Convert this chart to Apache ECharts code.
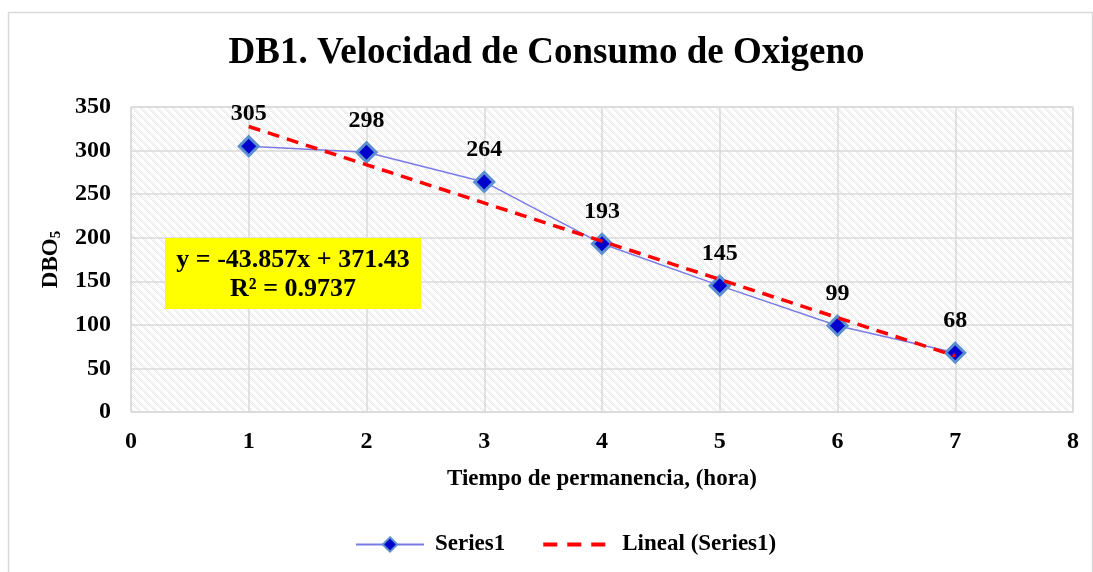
<!DOCTYPE html>
<html>
<head>
<meta charset="utf-8">
<script src="https://cdn.jsdelivr.net/npm/echarts@6/dist/echarts.min.js"></script>
<style>
  html, body { margin: 0; padding: 0; background: #fff; }
  #chart { width: 1093px; height: 572px; }
</style>
</head>
<body>
<div id="chart"></div>
<script>
// datos
const horas = [1, 2, 3, 4, 5, 6, 7];
const dbo5 = [305, 298, 264, 193, 145, 99, 68];
// extremos de la linea de tendencia (x = 1 y x = 7)
const tendencia = [[1, 327.6], [7, 64.4]];
const xTicks = [0, 8, 1];
const yTicks = [0, 350, 50];

const serif = "Liberation Serif";

// trama diagonal del area de trazado
function makeHatch() {
  const c = document.createElement("canvas");
  c.width = 8;
  c.height = 8;
  const ctx = c.getContext("2d");
  ctx.fillStyle = "#fff";
  ctx.fillRect(0, 0, 8, 8);
  ctx.fillStyle = "#e6e6e6";
  for (let y = 0; y < 8; y++) {
    for (let x = 0; x < 8; x++) {
      const d = (x - y + 16) % 8;
      if (d < 4 && (x + y) % 2 === 0) ctx.fillRect(x, y, 1, 1);
    }
  }
  return c;
}

const chart = echarts.init(document.getElementById("chart"));

const boldText = { fontFamily: serif, fontWeight: "bold", color: "#000" };

const option = {
  animation: false,
  title: {
    text: "DB1. Velocidad de Consumo de Oxigeno",
    left: "center",
    top: 30,
    textStyle: Object.assign({ fontSize: 37 }, boldText)
  },
  legend: {
    bottom: 11,
    left: 350,
    itemWidth: 68,
    itemHeight: 18,
    itemGap: 36,
    textStyle: Object.assign({ fontSize: 23, padding: [0, 0, 0, 6] }, boldText),
    data: [
      { name: "Series1" },
      {
        name: "Lineal (Series1)",
        itemStyle: { opacity: 0 },
        lineStyle: { color: "#ff0000", width: 4, type: [14, 10] }
      }
    ]
  },
  grid: {
    left: 131,
    right: 20,
    top: 107,
    bottom: 160,
    show: true,
    backgroundColor: { image: makeHatch(), repeat: "repeat" },
    borderColor: "#d9d9d9",
    borderWidth: 1
  },
  xAxis: {
    type: "value",
    min: xTicks[0],
    max: xTicks[1],
    interval: xTicks[2],
    name: "Tiempo de permanencia, (hora)",
    nameLocation: "middle",
    nameGap: 56,
    nameTextStyle: Object.assign({ fontSize: 23 }, boldText),
    axisLine: { lineStyle: { color: "#d9d9d9" } },
    axisTick: { show: false },
    axisLabel: Object.assign({ fontSize: 24, margin: 18 }, boldText),
    splitLine: { show: true, lineStyle: { color: "#d9d9d9", width: 1.5 } }
  },
  yAxis: {
    type: "value",
    min: yTicks[0],
    max: yTicks[1],
    interval: yTicks[2],
    name: "{a|DBO}{b|5}",
    nameLocation: "middle",
    nameRotate: 90,
    nameGap: 63,
    nameTextStyle: {
      rich: {
        a: Object.assign({ fontSize: 23 }, boldText),
        b: Object.assign({ fontSize: 15, padding: [11, 0, 0, 0] }, boldText)
      }
    },
    axisLine: { show: false },
    axisTick: { show: false },
    axisLabel: Object.assign({ fontSize: 24, margin: 20 }, boldText),
    splitLine: { lineStyle: { color: "#d9d9d9", width: 1.5 } }
  },
  series: [
    {
      name: "Series1",
      type: "line",
      data: horas.map((h, i) => [h, dbo5[i]]),
      symbol: "diamond",
      symbolSize: 19,
      z: 3,
      lineStyle: { color: "#7b7be6", width: 1.5 },
      itemStyle: { color: "#0000cc", borderColor: "#5b8fcf", borderWidth: 3 },
      label: Object.assign({ show: true, position: "top", distance: 9, fontSize: 24 }, boldText)
    },
    {
      name: "Lineal (Series1)",
      type: "line",
      data: tendencia,
      symbol: "none",
      z: 4,
      lineStyle: { color: "#ff0000", width: 3.5, type: [12, 8] },
      itemStyle: { color: "#ff0000" }
    }
  ],
  graphic: [
    {
      type: "rect",
      left: 6,
      top: 10,
      shape: { width: 1084, height: 570 },
      style: { fill: "none", stroke: "#d9d9d9", lineWidth: 1.5 },
      silent: true,
      z: -10
    },
    {
      type: "group",
      left: 165,
      top: 238,
      z: 100,
      children: [
        {
          type: "rect",
          z: 100,
          shape: { x: 0, y: 0, width: 256, height: 71 },
          style: { fill: "#ffff00" }
        },
        {
          type: "text",
          z: 101,
          x: 128,
          y: 22,
          style: {
            text: "y = -43.857x + 371.43",
            fontFamily: serif,
            fontSize: 26,
            fontWeight: "bold",
            fill: "#000",
            align: "center",
            verticalAlign: "middle"
          }
        },
        {
          type: "text",
          z: 101,
          x: 128,
          y: 51,
          style: {
            text: "R² = 0.9737",
            fontFamily: serif,
            fontSize: 26,
            fontWeight: "bold",
            fill: "#000",
            align: "center",
            verticalAlign: "middle"
          }
        }
      ]
    }
  ]
};

chart.setOption(option);
</script>
</body>
</html>
